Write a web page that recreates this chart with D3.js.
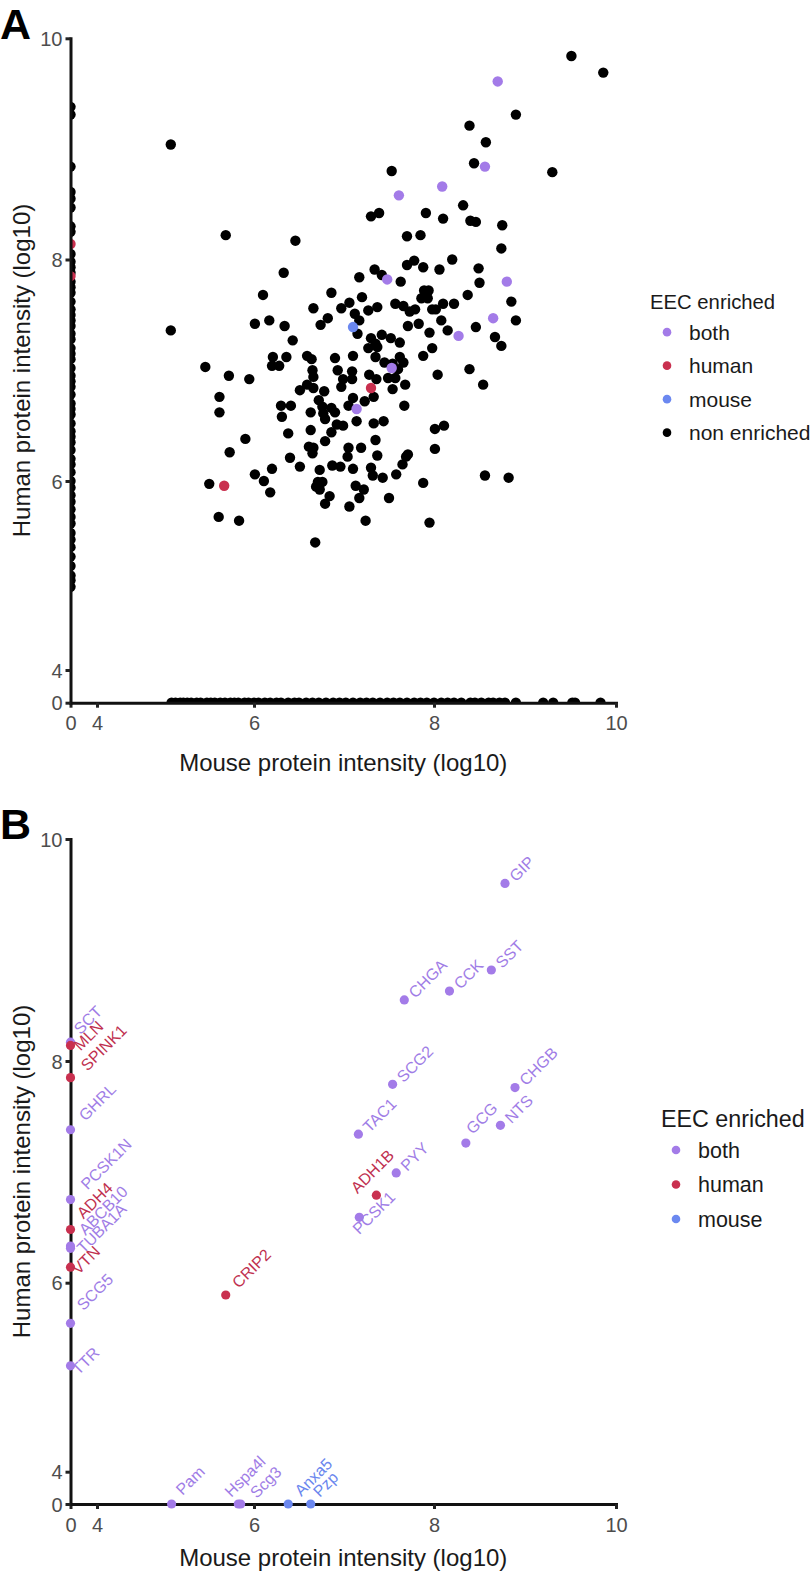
<!DOCTYPE html>
<html>
<head>
<meta charset="utf-8">
<script src="https://cdn.jsdelivr.net/npm/d3@7"></script>
<style>
  body { margin: 0; background: #fff; }
  text { font-family: "Liberation Sans", Arial, Helvetica, sans-serif; }
</style>
</head>
<body>
<script>
// ---- data ----------------------------------------------------------------

const groups = ["both", "human", "mouse", "non enriched"];

// panel A: proteins detected in both species (non enriched)
const cloudX = [9.51,9.86,8.90,8.39,8.57,4.94,8.44,9.30,7.53,8.32,7.91,7.30,7.39,8.10,8.40,8.46,8.75,5.64,7.70,7.85,
  6.46,8.74,8.20,7.70,7.78,7.88,8.06,7.34,7.42,8.49,6.33,7.17,7.63,8.50,6.10,6.86,7.20,7.89,7.94,7.86,
  7.93,8.37,8.85,7.57,7.66,7.73,7.79,7.98,8.02,8.10,8.22,6.66,6.97,7.06,7.27,7.37,7.12,7.17,6.82,6.74,
  6.17,6.01,6.34,7.15,7.71,7.83,8.08,8.90,8.46,7.95,8.15,4.94,6.43,7.30,7.42,7.52,7.62,8.67,8.74,7.27,
  7.35,7.37,7.98,6.21,6.36,6.59,6.64,6.90,7.10,7.35,7.62,7.88,5.38,6.20,6.28,7.45,7.54,7.66,7.60,8.39,
  5.68,5.94,6.65,6.93,7.09,8.04,6.66,6.99,7.09,7.28,7.36,7.49,7.57,8.54,7.68,6.59,6.66,6.97,6.51,6.78,
  7.54,5.56,7.33,7.10,6.72,7.23,6.30,6.41,6.76,6.86,7.05,7.67,5.56,6.63,6.77,6.90,6.31,6.79,7.14,7.33,
  7.44,6.92,6.99,8.11,8.01,6.63,6.86,6.38,5.89,7.35,6.79,6.61,6.66,7.05,7.19,8.01,5.69,6.65,7.37,7.04,
  7.71,7.69,6.40,7.65,6.20,6.51,6.87,6.96,6.73,7.10,7.30,7.32,7.43,7.58,8.56,8.82,6.01,6.11,5.43,6.71,
  6.76,6.69,6.73,7.13,7.22,7.88,6.18,6.84,7.17,7.50,6.79,7.06,5.55,5.81,7.24,7.95,6.68];
const cloudY = [9.84,9.69,9.31,9.21,9.06,9.04,8.87,8.79,8.80,8.49,8.42,8.39,8.42,8.37,8.35,8.34,8.31,8.22,8.21,8.22,
  8.17,8.10,8.00,7.95,7.99,7.93,7.91,7.91,7.86,7.92,7.88,7.84,7.80,7.79,7.68,7.70,7.66,7.72,7.72,7.65,
  7.65,7.68,7.62,7.60,7.58,7.53,7.55,7.55,7.55,7.60,7.60,7.56,7.56,7.61,7.54,7.57,7.51,7.45,7.47,7.41,
  7.45,7.42,7.40,7.33,7.40,7.42,7.45,7.45,7.39,7.34,7.36,7.36,7.27,7.29,7.32,7.29,7.25,7.30,7.22,7.20,
  7.24,7.21,7.20,7.12,7.12,7.13,7.10,7.11,7.13,7.12,7.12,7.13,7.03,7.04,7.04,7.07,7.06,7.07,7.01,7.01,
  6.95,6.92,7.00,7.00,6.99,6.96,6.94,6.92,6.92,6.96,6.92,6.93,6.93,6.87,6.87,6.87,6.84,6.85,6.82,6.81,
  6.83,6.76,6.76,6.75,6.73,6.72,6.68,6.68,6.67,6.66,6.68,6.68,6.62,6.62,6.61,6.62,6.58,6.56,6.54,6.52,
  6.54,6.51,6.50,6.50,6.47,6.46,6.44,6.43,6.38,6.37,6.36,6.31,6.30,6.30,6.30,6.29,6.26,6.25,6.23,6.22,
  6.24,6.22,6.21,6.15,6.11,6.13,6.14,6.13,6.10,6.11,6.12,6.05,6.03,6.06,6.05,6.03,6.06,6.00,5.97,5.99,
  5.99,5.94,5.91,5.95,5.91,5.98,5.88,5.84,5.82,5.82,5.76,5.73,5.62,5.58,5.58,5.56,5.35];

// panel A: not detected in mouse (sit on x = 0) / not detected in human (sit on y = 0)
const humanOnlyY = [9.38,9.31,8.84,8.61,8.55,8.47,8.30,8.25,8.05,7.98,7.93,7.88,7.80,7.75,7.70,7.62,7.55,7.50,
  7.45,7.40,7.33,7.28,7.20,7.15,7.10,7.02,6.95,6.90,6.85,6.78,6.70,6.65,6.60,6.52,6.45,6.40,6.35,
  6.28,6.20,6.15,6.08,6.00,5.93,5.85,5.78,5.70,5.62,5.55,5.45,5.38,5.30,5.20,5.10,5.00,4.95,4.88];
const mouseOnlyX = [4.95,5.00,5.06,5.10,5.15,5.20,5.27,5.32,5.40,5.45,5.50,5.57,5.63,5.70,5.75,5.80,5.88,5.93,
  6.00,6.05,6.12,6.18,6.25,6.30,6.38,6.45,6.50,6.58,6.65,6.72,6.80,6.88,6.95,7.02,7.10,7.18,7.25,
  7.32,7.40,7.48,7.55,7.62,7.70,7.78,7.85,7.92,8.00,8.08,8.15,8.22,8.30,8.40,8.45,8.52,8.60,8.65,
  8.72,8.78,8.90,9.20,9.31,9.52,9.55,9.83];

// panel A: enriched proteins
const enrichedX    = [8.70,8.56,8.09,7.61,7.48,8.80,8.65,8.27,7.53,7.14,7.30,5.62,0,0,7.10];
const enrichedY    = [9.61,8.84,8.66,8.58,7.82,7.80,7.47,7.31,7.02,6.65,6.84,5.95,8.14,7.85,7.39];
const enrichedType = ["both","both","both","both","both","both","both","both","both","both",
  "human","human","human","human","mouse"];

// panel B: labelled EEC enriched proteins
const genes    = ["GIP","SST","CCK","CHGA","SCG2","CHGB","TAC1","NTS","GCG","PYY","ADH1B","PCSK1","CRIP2",
  "SCT","MLN","SPINK1","GHRL","PCSK1N","ADH4","ABCB10","TUBA1A","VTN","SCG5","TTR",
  "Pam","Hspa4l","Scg3","Anxa5","Pzp"];
const geneX    = [8.78,8.63,8.17,7.67,7.54,8.89,7.16,8.73,8.35,7.58,7.36,7.17,5.64,
  0,0,0,0,0,0,0,0,0,0,0,
  4.95,5.80,5.83,6.38,6.63];
const geneY    = [9.60,8.82,8.63,8.55,7.79,7.76,7.34,7.42,7.26,6.99,6.79,6.59,5.87,
  8.17,8.14,7.85,7.38,6.75,6.48,6.33,6.31,6.14,5.57,5.12,
  0,0,0,0,0];
const geneType = ["both","both","both","both","both","both","both","both","both","both","human","both","human",
  "both","human","human","both","both","human","both","both","human","both","both",
  "both","both","both","mouse","mouse"];

const tickValues = [0, 4, 6, 8, 10];

// ---- styles --------------------------------------------------------------

const color = d3.scaleOrdinal()
    .domain(groups)
    .range(["#a37be8", "#c9304f", "#6b88f0", "#000000"]);
const labelColor = d3.scaleOrdinal()
    .domain(groups)
    .range(["#9f7de6", "#c0304f", "#6a86ee", "#000000"]);

// label nudges (pixels) for panel B
const defaultNudge = [11, -1];
const nudge = {
  SCT: [10, -7], MLN: [10, 6], SPINK1: [17, -6], GHRL: [15, -8], PCSK1N: [17, -9],
  ADH4: [13, -10], ABCB10: [15, -10], TUBA1A: [13, 6], VTN: [8, 8], SCG5: [13, -12], TTR: [8, 10],
  Pam: [11, -8], Hspa4l: [-7, -6], Scg3: [16, -5], Anxa5: [13, -7], Pzp: [9, -6],
  PCSK1: [0, 18], ADH1B: [-19, -1], GCG: [7, -8], CRIP2: [13, -6]
};

const W = 812, H = 1572;

const svg = d3.select("body").append("svg")
    .attr("width", W)
    .attr("height", H);

svg.append("rect").attr("width", W).attr("height", H).attr("fill", "#fff");

// x scale is shared, the axis is broken between 0 and 4
const x = d3.scaleLinear()
    .domain(tickValues)
    .range([70.5, 97, 254, 434, 616]);

function drawAxes(g, y) {
  const xAxis = d3.axisBottom(x).tickValues(tickValues).tickSize(5).tickSizeOuter(0).tickPadding(5);
  const yAxis = d3.axisLeft(y).tickValues(tickValues).tickSize(5).tickSizeOuter(0).tickPadding(3);

  const gx = g.append("g")
      .attr("transform", `translate(0, ${y(0)})`)
      .call(xAxis);
  const gy = g.append("g")
      .attr("transform", `translate(${x(0)}, 0)`)
      .call(yAxis);

  [gx, gy].forEach(a => {
    a.select(".domain").attr("stroke", "#111").attr("stroke-width", 3).attr("stroke-linecap", "square");
    a.selectAll(".tick line").attr("stroke", "#222").attr("stroke-width", 3);
    a.selectAll(".tick text")
        .attr("fill", "#4d4d4d")
        .style("font-size", "20px")
        .style("font-family", "'Liberation Sans', Arial, sans-serif");
  });
  gx.selectAll(".tick text").attr("dy", "0.88em");
  gy.selectAll(".tick text").attr("dy", "0.35em");
}

function titles(g, y, xTitleY, yTitleX) {
  g.append("text")
      .attr("x", (x(0) + x(10)) / 2)
      .attr("y", xTitleY)
      .attr("text-anchor", "middle")
      .attr("fill", "#1a1a1a")
      .style("font-size", "24px")
      .text("Mouse protein intensity (log10)");
  g.append("text")
      .attr("transform", `translate(${yTitleX}, ${(y(0) + y(10)) / 2}) rotate(-90)`)
      .attr("text-anchor", "middle")
      .attr("fill", "#1a1a1a")
      .style("font-size", "24px")
      .text("Human protein intensity (log10)");
}

function legend(g, lx, ly, items, titleSize, itemSize, dotX, textX, step) {
  g.append("text")
      .attr("x", lx)
      .attr("y", ly)
      .attr("dy", "0.35em")
      .attr("fill", "#1a1a1a")
      .style("font-size", titleSize + "px")
      .text("EEC enriched");
  const it = g.selectAll(".leg")
      .data(items)
    .enter().append("g")
      .attr("transform", (d, i) => `translate(0, ${ly + step * (i + 0.9)})`);
  it.append("circle")
      .attr("cx", dotX)
      .attr("r", 4.3)
      .attr("fill", d => color(d));
  it.append("text")
      .attr("x", textX)
      .attr("dy", "0.35em")
      .attr("fill", "#1a1a1a")
      .style("font-size", itemSize + "px")
      .text(d => d);
}

// ---- panel A ---------------------------------------------------------------

const yA = d3.scaleLinear()
    .domain(tickValues)
    .range([702.7, 670, 481, 259.5, 38.3]);

const gA = svg.append("g");

// points are clipped to the panel, so the ones on 0 show only half
svg.append("clipPath")
    .attr("id", "clipA")
  .append("rect")
    .attr("x", x(0))
    .attr("y", yA(10))
    .attr("width", x(10) - x(0))
    .attr("height", yA(0) - yA(10));

gA.append("text")
    .attr("x", 0).attr("y", 39)
    .style("font-size", "43px").style("font-weight", "bold")
    .text("A");

const pts = gA.append("g").attr("clip-path", "url(#clipA)");

pts.selectAll(".zx")
    .data(humanOnlyY)
  .enter().append("circle")
    .attr("cx", x(0))
    .attr("cy", d => yA(d))
    .attr("r", 5.2)
    .attr("fill", color("non enriched"));

pts.selectAll(".zy")
    .data(mouseOnlyX)
  .enter().append("circle")
    .attr("cx", d => x(d))
    .attr("cy", yA(0))
    .attr("r", 5.2)
    .attr("fill", color("non enriched"));

pts.selectAll(".cloud")
    .data(cloudX)
  .enter().append("circle")
    .attr("cx", d => x(d))
    .attr("cy", (d, i) => yA(cloudY[i]))
    .attr("r", 5.2)
    .attr("fill", color("non enriched"));

pts.selectAll(".enr")
    .data(enrichedX)
  .enter().append("circle")
    .attr("cx", d => x(d))
    .attr("cy", (d, i) => yA(enrichedY[i]))
    .attr("r", 5.2)
    .attr("fill", (d, i) => color(enrichedType[i]));

drawAxes(gA, yA);
titles(gA, yA, 771, 30);

legend(gA, 650, 302, groups, 20.3, 21, 667, 689, 33.5);

// ---- panel B ---------------------------------------------------------------

const yB = d3.scaleLinear()
    .domain(tickValues)
    .range([1504, 1471.7, 1282.7, 1061, 839]);

const gB = svg.append("g");

gB.append("text")
    .attr("x", 0).attr("y", 839)
    .style("font-size", "43px").style("font-weight", "bold")
    .text("B");

drawAxes(gB, yB);
titles(gB, yB, 1566, 30);

gB.selectAll(".gene")
    .data(genes)
  .enter().append("circle")
    .attr("cx", (d, i) => x(geneX[i]))
    .attr("cy", (d, i) => yB(geneY[i]))
    .attr("r", 4.6)
    .attr("fill", (d, i) => color(geneType[i]));

gB.selectAll(".glab")
    .data(genes)
  .enter().append("text")
    .attr("transform", (d, i) => {
      const n = nudge[d] || defaultNudge;
      return `translate(${x(geneX[i]) + n[0]}, ${yB(geneY[i]) + n[1]}) rotate(-45)`;
    })
    .attr("fill", (d, i) => labelColor(geneType[i]))
    .style("font-size", "16px")
    .text(d => d);

legend(gB, 661, 1119, groups.slice(0, 3), 23.3, 21.5, 676, 698, 34.5);
</script>
</body>
</html>
